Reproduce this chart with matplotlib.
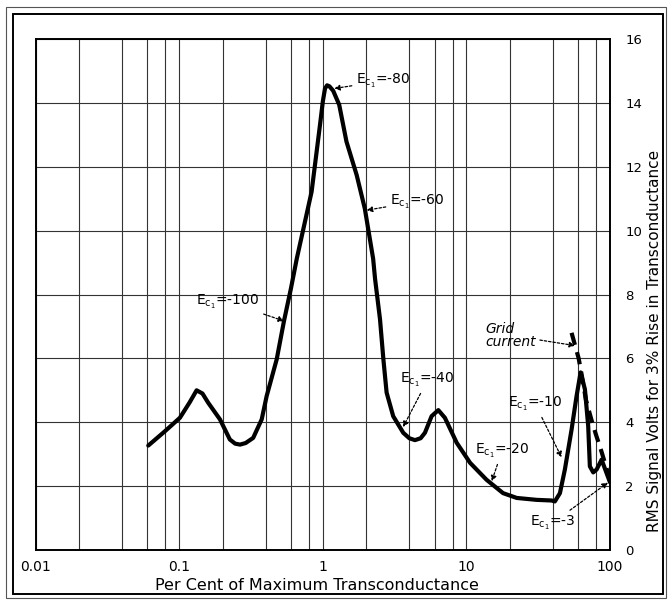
import numpy as np
import matplotlib.pyplot as plt
from matplotlib.ticker import FixedLocator, NullFormatter
from matplotlib.patches import Rectangle

# Curve: per cent of max transconductance vs RMS signal volts
pct = [0.0608, 0.0795, 0.101, 0.118, 0.132, 0.145, 0.159, 0.192, 0.225, 0.245,
       0.265, 0.29, 0.327, 0.375, 0.406, 0.477, 0.536, 0.60, 0.658, 0.835,
       0.955, 1.00, 1.035, 1.07, 1.11, 1.18, 1.30, 1.46, 1.72, 1.96, 2.24,
       2.31, 2.50, 2.64, 2.78, 3.09, 3.63, 4.0, 4.38, 4.8, 5.14, 5.72, 6.37,
       7.08, 8.55, 10.6, 13.8, 18.0, 22.4, 30.8, 39.2, 41.3, 44.8, 48.5, 54.0,
       58.5, 62.4, 66.9, 70.5, 72.4, 76.4, 80.7, 87.4, 94.6, 100.0]
volts = [3.27, 3.72, 4.14, 4.62, 5.00, 4.90, 4.61, 4.09, 3.46, 3.33,
         3.30, 3.35, 3.51, 4.09, 4.82, 5.97, 7.17, 8.20, 9.12, 11.22,
         13.31, 14.05, 14.45, 14.55, 14.52, 14.38, 13.94, 12.79, 11.74, 10.69, 9.12,
         8.49, 7.23, 5.97, 4.93, 4.19, 3.67, 3.50, 3.44, 3.50, 3.67, 4.19, 4.38,
         4.14, 3.36, 2.73, 2.20, 1.78, 1.63, 1.57, 1.55, 1.52, 1.78, 2.52, 3.77,
         4.82, 5.56, 5.03, 3.88, 2.62, 2.43, 2.52, 2.83, 2.41, 2.12]

# grid current (dashed) branch
gc_pct = [54.0, 60.5, 64.0, 68.0, 74.0, 80.0, 87.0, 94.0, 100.0]
gc_volts = [6.8, 6.0, 5.4, 4.7, 4.1, 3.6, 3.1, 2.6, 2.2]

x_ticks = [0.01, 0.1, 1, 10, 100]
x_ticklabels = ['0.01', '0.1', '1', '10', '100']
x_minor = [m * d for d in [0.01, 0.1, 1, 10] for m in [2, 4, 6, 8]]
y_ticks = list(range(0, 17, 2))

# (label, text position, arrow tip)
labels = [
    (r'E$_{\mathrm{c}_\mathrm{1}}$=-80', (1.70, 14.69), (1.20, 14.45)),
    (r'E$_{\mathrm{c}_\mathrm{1}}$=-60', (2.93, 10.91), (2.02, 10.64)),
    (r'E$_{\mathrm{c}_\mathrm{1}}$=-100', (0.131, 7.77), (0.536, 7.17)),
    (r'E$_{\mathrm{c}_\mathrm{1}}$=-40', (3.45, 5.31), (3.62, 3.85)),
    (r'E$_{\mathrm{c}_\mathrm{1}}$=-20', (11.4, 3.09), (15.0, 2.15)),
    (r'E$_{\mathrm{c}_\mathrm{1}}$=-10', (19.5, 4.56), (46.0, 2.90)),
    (r'E$_{\mathrm{c}_\mathrm{1}}$=-3', (27.6, 0.85), (96.8, 2.11)),
]

fig = plt.figure(figsize=(6.69, 6.03), dpi=100)
ax = fig.add_axes([0.0534, 0.0879, 0.8584, 0.8474])

ax.plot(pct, volts, color='black', lw=3, solid_capstyle='round',
        solid_joinstyle='round')
ax.plot(gc_pct, gc_volts, color='black', lw=3, dashes=(3, 1.8))

ax.set_xscale('log')
ax.set_xlim(0.01, 100)
ax.set_ylim(0, 16)
ax.set_xticks(x_ticks)
ax.set_xticklabels(x_ticklabels)
ax.xaxis.set_minor_locator(FixedLocator(x_minor))
ax.xaxis.set_minor_formatter(NullFormatter())
ax.set_yticks(y_ticks)
ax.yaxis.tick_right()
ax.tick_params(which='both', length=0, labelsize=10)
ax.tick_params(axis='x', pad=7)
ax.tick_params(axis='y', pad=11, labelsize=9.5)
ax.grid(which='both', color='#333333', lw=0.8)
for s in ax.spines.values():
    s.set_linewidth(1.4)

ax.set_xlabel('Per Cent of Maximum Transconductance', fontsize=11.5)
ax.xaxis.set_label_coords(0.49, -0.055)
ax.yaxis.set_label_position('right')
ax.set_ylabel('RMS Signal Volts for 3% Rise in Transconductance', fontsize=11)
ax.yaxis.set_label_coords(1.064, 0.41)

arrow = dict(arrowstyle='-|>', linestyle=(0, (2, 1.5)), color='black', lw=0.9,
             mutation_scale=8, shrinkA=1, shrinkB=0)
for txt, pos, tip in labels:
    ax.annotate(txt, xy=tip, xytext=pos, fontsize=10, ha='left', va='center',
                arrowprops=arrow)

ax.annotate('Grid\ncurrent', xy=(57, 6.4), xytext=(13.5, 6.72), fontsize=10,
            style='italic', ha='left', va='center', linespacing=0.9,
            arrowprops=dict(arrow, connectionstyle='arc3'),
            annotation_clip=False)

# page border
fig.patches.append(Rectangle((13 / 669, 1 - 594 / 603), 650 / 669, 580 / 603,
                             transform=fig.transFigure, fill=False, lw=1.4,
                             ec='black'))
fig.patches.append(Rectangle((6 / 669, 1 - 598 / 603), 660 / 669, 591 / 603,
                             transform=fig.transFigure, fill=False, lw=0.8,
                             ec='#555555'))

fig.savefig('out.png', dpi=100)
